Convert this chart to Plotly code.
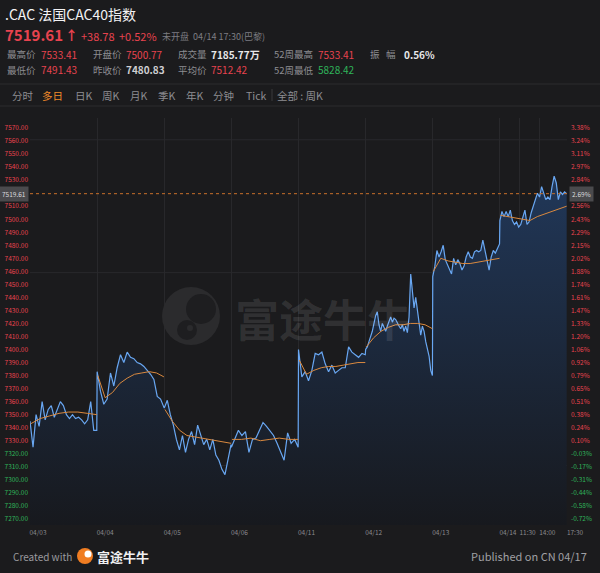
import plotly.graph_objects as go

# ---------------- data ----------------
day_labels = ["04/03", "04/04", "04/05", "04/06", "04/11", "04/12", "04/13", "04/14"]
session_labels = ["11:30", "14:00", "17:30"]
session_hours_from_open = [2.5, 5.0, 8.5]   # CAC session 09:00-17:30
session_length_hours = 8.5

day1 = [7345, 7325, 7350, 7341, 7360, 7346, 7354, 7357, 7348, 7354, 7360, 7357, 7350, 7347,
        7350, 7347, 7348, 7346, 7343, 7346, 7360, 7338, 7338]
day2 = [7383, 7368, 7358, 7362, 7382, 7372, 7386, 7396, 7390, 7398, 7394, 7393, 7390, 7389,
        7387, 7384, 7381, 7377, 7364, 7362, 7355]
day3 = [7355, 7361, 7350, 7342, 7331, 7323, 7334, 7321, 7331, 7337, 7327, 7342, 7334, 7327,
        7331, 7323, 7331, 7319, 7315, 7308, 7304, 7315, 7327]
day4 = [7325, 7332, 7338, 7334, 7337, 7321, 7331, 7332, 7338, 7344, 7341, 7337, 7334, 7328,
        7321, 7315, 7336, 7328, 7331, 7325]
day5 = [7400, 7379, 7383, 7376, 7384, 7397, 7396, 7398, 7389, 7383, 7388, 7382, 7384, 7386,
        7386, 7402, 7398, 7396, 7394, 7397, 7396]
day6 = [7400, 7402, 7406, 7410, 7414, 7420, 7426, 7429, 7419, 7414, 7420, 7417, 7414, 7418,
        7421, 7425, 7421, 7424, 7423, 7420, 7418, 7416, 7419, 7414, 7418, 7413, 7425, 7458,
        7443, 7432, 7440, 7430, 7421, 7411, 7418, 7414, 7406, 7400, 7395, 7384, 7380]
day7 = [7456, 7464, 7476, 7471, 7475, 7480, 7469, 7465, 7462, 7458, 7470, 7465, 7469, 7466,
        7461, 7464, 7471, 7475, 7471, 7470, 7475, 7476, 7475, 7476, 7484, 7476, 7469, 7461,
        7471, 7476, 7474, 7478, 7481]
day8 = [7499, 7506, 7502, 7506, 7502, 7507, 7499, 7496, 7498, 7494, 7496, 7502, 7507, 7496,
        7498, 7505, 7510, 7516, 7520, 7517, 7525, 7520, 7515, 7517, 7515, 7525, 7533, 7528,
        7515, 7521, 7519, 7521, 7519.61]
price_days = [day1, day2, day3, day4, day5, day6, day7, day8]

avg1 = [7343, 7347, 7349, 7351, 7352, 7352, 7351, 7350]
avg2 = [7380, 7363, 7367, 7374, 7378, 7381, 7382, 7383, 7382, 7379]
avg3 = [7354, 7345, 7338, 7334, 7333, 7332, 7331, 7330, 7329, 7328]
avg4 = [7331, 7331, 7332, 7330, 7331, 7332, 7331, 7331]
avg5 = [7392, 7381, 7384, 7386, 7387, 7387, 7388, 7389, 7390, 7390]
avg6 = [7402, 7409, 7414, 7417, 7419, 7419, 7420, 7420, 7419, 7416]
avg7 = [7460, 7470, 7468, 7467, 7466, 7466, 7467, 7468, 7469, 7470]
avg8 = [7503, 7502, 7501, 7500, 7499, 7502, 7504, 7506, 7508, 7510]
avg_days = [avg1, avg2, avg3, avg4, avg5, avg6, avg7, avg8]

left_ticks = [7570, 7560, 7550, 7540, 7530, 7520, 7510, 7500, 7490, 7480, 7470, 7460, 7450,
              7440, 7430, 7420, 7410, 7400, 7390, 7380, 7370, 7360, 7350, 7340, 7330, 7320,
              7310, 7300, 7290, 7280, 7270]
pct_labels = ["3.38%", "3.24%", "3.11%", "2.97%", "2.84%", "2.70%", "2.56%", "2.43%", "2.29%",
              "2.15%", "2.02%", "1.88%", "1.74%", "1.61%", "1.47%", "1.33%", "1.20%", "1.06%",
              "0.92%", "0.79%", "0.65%", "0.51%", "0.38%", "0.24%", "0.10%", "-0.03%", "-0.17%",
              "-0.31%", "-0.44%", "-0.58%", "-0.72%"]
base_close = 7322.7

last_price = 7519.61
last_pct = "2.69%"

# ---------------- styles ----------------
BG = "#1b1b1d"
RED = "#e8434f"
GREEN = "#2fb35a"
GREY = "#8d8d92"
WHITE = "#e8e8ea"
CJK = "Noto Sans CJK SC"
Y_RANGE = [7265.3, 7577.7]
L, R, T, B = 30, 33, 118, 48
PW, PH = 600 - L - R, 573 - T - B

# ---------------- build traces ----------------
px_x, px_y = [], []
for d, vals in enumerate(price_days):
    n = len(vals)
    for k, v in enumerate(vals):
        px_x.append(d + k / (n - 1) * 0.995)
        px_y.append(v)

avg_x, avg_y = [], []
for d, vals in enumerate(avg_days):
    n = len(vals)
    for k, v in enumerate(vals):
        avg_x.append(d + 0.01 + k / (n - 1) * 0.985)
        avg_y.append(v)
    avg_x.append(None)
    avg_y.append(None)

fig = go.Figure()
fig.add_trace(go.Scatter(
    x=px_x, y=px_y, mode="lines",
    line=dict(color="#69a7f2", width=1.2),
    fill="tozeroy",
    fillgradient=dict(type="vertical", start=Y_RANGE[0], stop=7540,
                      colorscale=[[0, "#17191e"], [1, "#21385a"]]),
    hoverinfo="skip", showlegend=False))
fig.add_trace(go.Scatter(
    x=avg_x, y=avg_y, mode="lines", connectgaps=False,
    line=dict(color="#d9893f", width=1),
    hoverinfo="skip", showlegend=False))
fig.add_trace(go.Scatter(x=[0], y=[last_price], yaxis="y2", mode="markers",
                         marker=dict(opacity=0), hoverinfo="skip", showlegend=False))

# ---------------- axes ----------------
tickvals_x = list(range(len(day_labels))) + [
    len(day_labels) - 1 + h / session_length_hours for h in session_hours_from_open]
ticktext_x = day_labels + session_labels

left_text = []
for v in left_ticks:
    if abs(v - last_price) < 5:
        left_text.append("")
    else:
        left_text.append(f"<span style='color:{RED if v >= base_close else GREEN}'>{v:.2f}</span>")
right_text = []
for v, p in zip(left_ticks, pct_labels):
    if abs(v - last_price) < 5:
        right_text.append("")
    else:
        right_text.append(f"<span style='color:{GREEN if p.startswith('-') else RED}'>{p}</span>")

fig.update_layout(
    width=600, height=573,
    paper_bgcolor=BG, plot_bgcolor=BG,
    margin=dict(l=L, r=R, t=T, b=B, autoexpand=False),
    font=dict(family=CJK, color=GREY),
    xaxis=dict(range=[0, 8], tickvals=tickvals_x, ticktext=ticktext_x, automargin=False,
               showgrid=True, gridcolor="#28282b", gridwidth=1, zeroline=False,
               showline=False, ticks="", tickfont=dict(size=6.5, color="#8a8a8e"),
               tickangle=0, ticklabelshift=8, ticklabelstandoff=2),
    yaxis=dict(range=Y_RANGE, tickvals=left_ticks, ticktext=left_text, automargin=False,
               showgrid=False, zeroline=False, ticks="", tickfont=dict(size=6.5),
               ticklabelstandoff=1),
    yaxis2=dict(range=Y_RANGE, overlaying="y", side="right", tickvals=left_ticks,
                ticktext=right_text, automargin=False, showgrid=False, zeroline=False,
                ticks="", tickfont=dict(size=6.5), ticklabelstandoff=3),
)


def px2paper_x(x):
    return (x - L) / PW


def px2paper_y(y):
    return 1 - (y - T) / PH


def circ(cx, cy, r, fill):
    return dict(type="circle", xref="paper", yref="paper",
                x0=px2paper_x(cx - r), x1=px2paper_x(cx + r),
                y0=px2paper_y(cy + r), y1=px2paper_y(cy - r),
                line=dict(width=0), fillcolor=fill)


shapes = []
# faint horizontal guide lines
for lvl in [7561, 7459, 7311]:
    shapes.append(dict(type="line", xref="paper", x0=0, x1=1, yref="y", y0=lvl, y1=lvl,
                       line=dict(color="#29292c", width=1), layer="below"))
# last price dashed line
shapes.append(dict(type="line", xref="paper", x0=0, x1=1, yref="y", y0=last_price, y1=last_price,
                   line=dict(color="#c8702a", width=1, dash="dot")))
# header separators
for yy in (84, 106):
    shapes.append(dict(type="line", xref="paper", yref="paper",
                       x0=px2paper_x(0), x1=px2paper_x(600),
                       y0=px2paper_y(yy), y1=px2paper_y(yy),
                       line=dict(color="#2c2c2f", width=1)))
shapes.append(dict(type="line", xref="paper", yref="paper",
                   x0=px2paper_x(272), x1=px2paper_x(272),
                   y0=px2paper_y(89), y1=px2paper_y(101),
                   line=dict(color="#3a3a3d", width=1)))
# watermark logo: grey disc with dark bull-head cut-out
shapes.append(circ(191, 316, 29, "#2b2b2d"))
shapes.append(circ(201, 309, 15, "#1e1e20"))
shapes.append(circ(187, 330, 10, "#1e1e20"))
shapes.append(circ(190, 328, 3, "#2b2b2d"))
# footer logo
shapes.append(circ(85, 556, 8, "#f07d22"))
shapes.append(circ(88, 554, 3.5, "#ffffff"))
fig.update_layout(shapes=shapes)

# ---------------- annotations ----------------
ann = []


def txt(x, y, s, size=10, color=GREY, bold=False, anchor="left"):
    ann.append(dict(xref="paper", yref="paper",
                    x=px2paper_x(x), y=px2paper_y(y),
                    text=f"<b>{s}</b>" if bold else s, showarrow=False,
                    xanchor=anchor, yanchor="middle", borderpad=0,
                    font=dict(size=size, color=color, family=CJK)))


txt(4, 14, ".CAC 法国CAC40指数", size=14, color="#f2f2f4")
txt(4, 35, "7519.61", size=15, color=RED, bold=True)
txt(64, 35, "↑", size=13, color=RED, bold=True)
txt(80, 36, "+38.78", size=11, color=RED)
txt(118, 36, "+0.52%", size=11, color=RED)
txt(161, 36, "未开盘  04/14 17:30(巴黎)", size=9, color="#7d7d82")

row2 = [(6, "最高价", GREY), (40, "7533.41", RED), (92, "开盘价", GREY), (125, "7500.77", RED),
        (177, "成交量", GREY), (210, "7185.77万", WHITE), (273, "52周最高", GREY),
        (317, "7533.41", RED), (369, "振   幅", GREY), (403, "0.56%", WHITE)]
row3 = [(6, "最低价", GREY), (40, "7491.43", RED), (92, "昨收价", GREY), (125, "7480.83", "#cfcfd2"),
        (177, "平均价", GREY), (210, "7512.42", RED), (273, "52周最低", GREY),
        (317, "5828.42", GREEN)]
for x, s, c in row2:
    txt(x, 54, s, size=9.5 if c == GREY else 10, color=c, bold=(c == WHITE))
for x, s, c in row3:
    txt(x, 70, s, size=9.5 if c == GREY else 10, color=c, bold=(c == "#cfcfd2"))

tabs = [(11, "分时", GREY), (41, "多日", "#f08a2a"), (74, "日K", GREY), (101, "周K", GREY),
        (129, "月K", GREY), (157, "季K", GREY), (185, "年K", GREY), (212, "分钟", GREY),
        (245, "Tick", GREY), (276, "全部 : 周K", GREY)]
for x, s, c in tabs:
    txt(x, 95, s, size=10.5, color=c)

# watermark text
txt(234, 318, "富途牛牛", size=44, color="rgba(255,255,255,0.10)", bold=True)

# footer
txt(12, 556, "Created with", size=10, color="#9a9a9e")
txt(96, 556, "富途牛牛", size=13, color="#f0f0f2", bold=True)
txt(588, 556, "Published on CN 04/17", size=11, color="#a0a0a4", anchor="right")

# last price tags
ann.append(dict(xref="paper", yref="y", x=0, y=last_price, xanchor="right", yanchor="middle",
                text=f"{last_price:.2f}", showarrow=False, bgcolor="#4a4a4d",
                borderpad=2, xshift=-1, font=dict(size=6.5, color="#d9d9dc")))
ann.append(dict(xref="paper", yref="y", x=1, y=last_price, xanchor="left", yanchor="middle",
                text=last_pct, showarrow=False, bgcolor="#4a4a4d",
                borderpad=2, xshift=2, font=dict(size=6.5, color="#d9d9dc")))

fig.update_layout(annotations=ann)

# page body has a default 8px margin; remove it so the 600x573 figure fills the window
fig.write_html("out.html", config={"displayModeBar": False},
               post_script="document.body.style.margin='0px';document.body.style.overflow='hidden';")
